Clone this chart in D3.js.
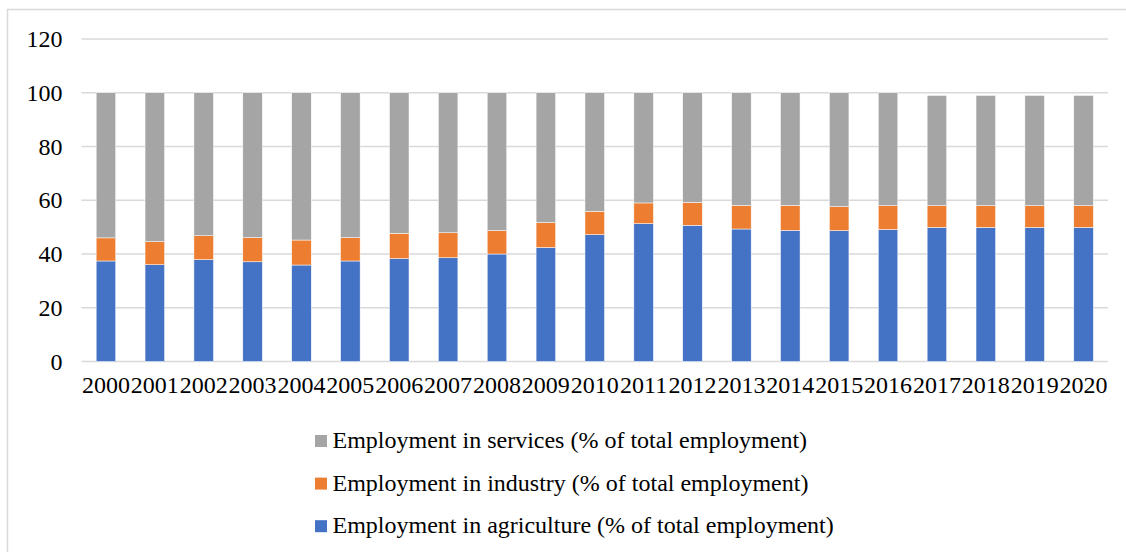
<!DOCTYPE html>
<html>
<head>
<meta charset="utf-8">
<script src="https://cdn.jsdelivr.net/npm/d3@7/dist/d3.min.js"></script>
<style>
  html, body { margin: 0; padding: 0; background: #fff; }
  svg { display: block; }
  svg text { font-family: "Times New Roman", "Liberation Serif", "DejaVu Serif", serif; fill: #000; }
</style>
</head>
<body>
<svg id="chart" width="1126" height="552"></svg>
<script>
// Employment shares by sector, % of total employment
const years = ["2000","2001","2002","2003","2004","2005","2006","2007","2008","2009","2010",
               "2011","2012","2013","2014","2015","2016","2017","2018","2019","2020"];
const agriculture = [37.4,36.0,37.9,37.1,35.9,37.4,38.3,38.6,40.0,42.4,47.2,
                     51.3,50.7,49.3,48.8,48.7,49.1,49.9,49.9,49.9,49.9];
const industry    = [8.6,8.6,8.9,9.0,9.3,8.7,9.4,9.3,8.7,9.3,8.7,
                     7.7,8.5,8.8,9.3,8.9,8.9,8.1,8.1,8.1,8.1];
const services    = [54.0,55.4,53.2,53.9,54.8,53.9,52.3,52.1,51.3,48.3,44.1,
                     41.0,40.8,41.9,41.9,42.4,42.0,41.0,41.0,41.0,41.0];
const yTicks = [0,20,40,60,80,100,120];

const seriesNames = [
  "Employment in agriculture (% of total employment)",
  "Employment in industry (% of total employment)",
  "Employment in services (% of total employment)"
];
const seriesColors = ["#4472C4", "#ED7D31", "#A5A5A5"];

const serif = "'Times New Roman', 'Liberation Serif', 'DejaVu Serif', serif";

const rows = years.map((y, i) => ({
  year: y, agriculture: agriculture[i], industry: industry[i], services: services[i]
}));
const keys = ["agriculture", "industry", "services"];
const stacked = d3.stack().keys(keys)(rows);

const svg = d3.select("#chart");

// chart area frame
svg.append("rect")
  .attr("x", 7.5).attr("y", 9.5)
  .attr("width", 1140).attr("height", 560)
  .attr("fill", "none").attr("stroke", "#D9D9D9").attr("stroke-width", 1.5);

const x = d3.scaleBand().domain(years).range([81.5, 1108]).paddingInner(0.6).paddingOuter(0.3);
const y = d3.scaleLinear().domain([0, 120]).range([361.5, 39]);

// horizontal gridlines
svg.append("g")
  .selectAll("line")
  .data(yTicks)
  .join("line")
  .attr("x1", 81.5).attr("x2", 1108)
  .attr("y1", d => y(d)).attr("y2", d => y(d))
  .attr("stroke", "#D9D9D9").attr("stroke-width", 1.5);

// y axis labels
const yAxis = d3.axisLeft(y).tickValues(yTicks).tickSize(0).tickPadding(19);
svg.append("g")
  .attr("transform", "translate(81.5,0)")
  .call(yAxis)
  .attr("font-family", serif)
  .attr("font-size", 24)
  .call(g => g.select(".domain").remove())
  .call(g => g.selectAll("text").attr("fill", "#000"));

// stacked bars
svg.append("g")
  .selectAll("g")
  .data(stacked)
  .join("g")
  .attr("fill", (d, i) => seriesColors[i])
  .selectAll("rect")
  .data(d => d)
  .join("rect")
  .attr("x", d => x(d.data.year))
  .attr("width", x.bandwidth())
  .attr("y", d => y(d[1]))
  .attr("height", d => y(d[0]) - y(d[1]))
  .attr("stroke", "#fff").attr("stroke-width", 0.5);

// x axis labels
const xAxis = d3.axisBottom(x).tickSize(0).tickPadding(14);
svg.append("g")
  .attr("transform", "translate(0,361.5)")
  .call(xAxis)
  .attr("font-family", serif)
  .attr("font-size", 24)
  .call(g => g.select(".domain").remove())
  .call(g => g.selectAll("text").attr("fill", "#000"));

// legend (services on top, agriculture at the bottom)
const legendOrder = [2, 1, 0];
const legend = svg.append("g")
  .attr("font-family", serif)
  .selectAll("g")
  .data(legendOrder)
  .join("g")
  .attr("transform", (d, i) => `translate(315,${435 + i * 42.6})`);
legend.append("rect")
  .attr("width", 12).attr("height", 12)
  .attr("fill", d => seriesColors[d]);
legend.append("text")
  .attr("x", 17.5).attr("y", 13)
  .attr("font-size", 24)
  .text(d => seriesNames[d]);
</script>
</body>
</html>
